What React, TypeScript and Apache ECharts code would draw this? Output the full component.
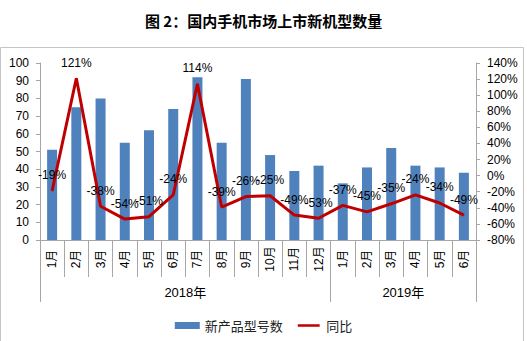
import React, { useEffect, useRef } from "react";
import * as echarts from "echarts";

const months = ["1月", "2月", "3月", "4月", "5月", "6月", "7月", "8月", "9月", "10月", "11月", "12月", "1月", "2月", "3月", "4月", "5月", "6月"];
const newModels = [51, 75, 80, 55, 62, 74, 92, 55, 91, 48, 39, 42, 32, 41, 52, 42, 41, 38];
const yoy = [-19, 121, -38, -54, -51, -24, 114, -39, -26, -25, -49, -53, -37, -45, -35, -24, -34, -49];
const years = ["2018年", "2019年"];
const yearSpans = [12, 6];

const leftTicks = { min: 0, max: 100, interval: 10 };
const rightTicks = { min: -80, max: 140, interval: 20 };

const FONT = "'Liberation Sans', 'Noto Sans CJK SC', sans-serif";

export default function App() {
  const ref = useRef<HTMLDivElement>(null);

  useEffect(() => {
    if (!ref.current) return;
    const chart = echarts.init(ref.current, null, { renderer: "svg" });

    const bounds: number[] = [0];
    const centers: number[] = [];
    let acc = 0;
    yearSpans.forEach((s) => {
      centers.push(acc + s / 2);
      acc += s;
      bounds.push(acc);
    });

    const option: any = {
      animation: false,
      backgroundColor: "#ffffff",
      textStyle: { fontFamily: FONT },
      title: {
        text: "图 2：国内手机市场上市新机型数量",
        left: "center",
        top: 8,
        textStyle: {
          fontFamily: "'Noto Sans CJK SC', sans-serif",
          fontSize: 15,
          fontWeight: "bold",
          color: "#000",
        },
      },
      graphic: [
        {
          type: "rect",
          shape: { x: 0.5, y: 47.5, width: 523, height: 300 },
          style: { fill: "none", stroke: "#C4C4C4", lineWidth: 1 },
          silent: true,
          z: -10,
        },
      ],
      legend: {
        left: "center",
        top: 314,
        itemGap: 15,
        itemWidth: 25,
        itemHeight: 7,
        textStyle: {
          fontFamily: "'Noto Sans CJK SC', sans-serif",
          fontSize: 13,
          color: "#222",
        },
        data: [
          { name: "新产品型号数", icon: "rect" },
          { name: "同比", icon: "path://M0 0H25V0.01H0Z M0 2.5H25V5.5H0Z M0 7.99H25V8H0Z" },
        ],
      },
      grid: { left: 40, right: 51, top: 63, bottom: 101, containLabel: false },
      xAxis: [
        {
          type: "category",
          data: months,
          boundaryGap: true,
          axisLine: { show: true, onZero: false, lineStyle: { color: "#A6A6A6", width: 1 } },
          axisTick: { show: true, alignWithLabel: false, length: 37, lineStyle: { color: "#A6A6A6" } },
          axisLabel: {
            interval: 0,
            rotate: 90,
            align: "center",
            verticalAlign: "middle",
            margin: 19,
            fontSize: 12,
            color: "#000",
            fontFamily: FONT,
          },
          splitLine: { show: false },
        },
        {
          type: "value",
          position: "bottom",
          min: 0,
          max: acc,
          axisLine: { show: false, onZero: false },
          axisTick: { show: true, length: 62, customValues: bounds, lineStyle: { color: "#A6A6A6" } },
          axisLabel: {
            show: true,
            customValues: centers,
            formatter: (v: number) => {
              const i = centers.indexOf(v);
              return i >= 0 ? years[i] : "";
            },
            margin: 46,
            fontSize: 13,
            color: "#000",
            fontFamily: FONT,
          },
          splitLine: { show: false },
        },
      ],
      yAxis: [
        {
          type: "value",
          position: "left",
          min: leftTicks.min,
          max: leftTicks.max,
          interval: leftTicks.interval,
          axisLine: { show: true, lineStyle: { color: "#A6A6A6" } },
          axisTick: { show: true, length: 4, lineStyle: { color: "#A6A6A6" } },
          axisLabel: { fontSize: 12, color: "#000", margin: 11, fontFamily: FONT },
          splitLine: { show: false },
        },
        {
          type: "value",
          position: "right",
          min: rightTicks.min,
          max: rightTicks.max,
          interval: rightTicks.interval,
          axisLine: { show: true, lineStyle: { color: "#A6A6A6" } },
          axisTick: { show: true, length: 4, lineStyle: { color: "#A6A6A6" } },
          axisLabel: { fontSize: 12, color: "#000", margin: 11, formatter: "{value}%", fontFamily: FONT },
          splitLine: { show: false },
        },
      ],
      series: [
        {
          name: "新产品型号数",
          type: "bar",
          xAxisIndex: 0,
          yAxisIndex: 0,
          data: newModels,
          barWidth: 10,
          itemStyle: { color: "#4F81BD" },
        },
        {
          name: "同比",
          type: "line",
          xAxisIndex: 0,
          yAxisIndex: 1,
          data: yoy,
          symbol: "circle",
          symbolSize: 1,
          showSymbol: true,
          lineStyle: { color: "#C00000", width: 3 },
          itemStyle: { color: "#C00000" },
          label: {
            show: true,
            position: "top",
            distance: 9,
            formatter: (p: any) => `${p.value}%`,
            fontSize: 12,
            color: "#000",
            fontFamily: FONT,
          },
          labelLayout: { hideOverlap: false },
          z: 5,
        },
      ],
    };

    chart.setOption(option);
    return () => chart.dispose();
  }, []);

  return (
    <div
      ref={ref}
      style={{ position: "fixed", left: 0, top: 0, width: 527, height: 341 }}
    />
  );
}
